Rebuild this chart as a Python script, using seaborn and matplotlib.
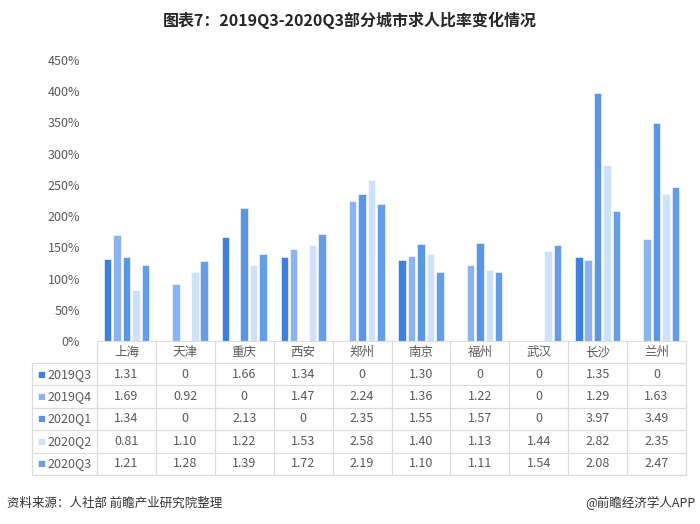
import numpy as np
import pandas as pd
import seaborn as sns
import matplotlib.pyplot as plt
from matplotlib.transforms import blended_transform_factory
from matplotlib.ticker import FuncFormatter

cities = ['上海', '天津', '重庆', '西安', '郑州', '南京', '福州', '武汉', '长沙', '兰州']
periods = ['2019Q3', '2019Q4', '2020Q1', '2020Q2', '2020Q3']
q3_2019 = [1.31, 0, 1.66, 1.34, 0, 1.30, 0, 0, 1.35, 0]
q4_2019 = [1.69, 0.92, 0, 1.47, 2.24, 1.36, 1.22, 0, 1.29, 1.63]
q1_2020 = [1.34, 0, 2.13, 0, 2.35, 1.55, 1.57, 0, 3.97, 3.49]
q2_2020 = [0.81, 1.10, 1.22, 1.53, 2.58, 1.40, 1.13, 1.44, 2.82, 2.35]
q3_2020 = [1.21, 1.28, 1.39, 1.72, 2.19, 1.10, 1.11, 1.54, 2.08, 2.47]
series = [q3_2019, q4_2019, q1_2020, q2_2020, q3_2020]

palette = {'2019Q3': '#3d81de', '2019Q4': '#8bb4ee', '2020Q1': '#5a96e4',
           '2020Q2': '#cde1fb', '2020Q3': '#649de8'}

sns.set_style('white')
plt.rcParams['font.family'] = ['Noto Sans CJK SC', 'DejaVu Sans']
text_col = '#595959'
line_col = '#dcdcdc'

df = pd.DataFrame({
    'city': np.tile(cities, len(periods)),
    'period': np.repeat(periods, len(cities)),
    'value': np.concatenate(series),
})

fig = plt.figure(figsize=(7, 5.24), dpi=100)
W, H = 700, 524
x0, x1, y_top, y_bot = 97, 686, 60, 341
ax = fig.add_axes([x0 / W, (H - y_bot) / H, (x1 - x0) / W, (y_bot - y_top) / H])

sns.barplot(df, x='city', y='value', hue='period', palette=palette,
            saturation=1, width=0.8, gap=0.2, legend=False, ax=ax,
            edgecolor='white', linewidth=0.4)
ax.set_xlim(-0.5, 9.5)
ax.set_ylim(0, 4.5)
ax.set_yticks(np.arange(0, 4.51, 0.5))
ax.yaxis.set_major_formatter(FuncFormatter(lambda v, p: f'{v * 100:.0f}%'))
ax.tick_params(axis='y', labelsize=9, labelcolor=text_col, length=0, pad=12)
ax.set_xticks([])
ax.set_xlabel('')
ax.set_ylabel('')
for s in ['left', 'right', 'top']:
    ax.spines[s].set_visible(False)
ax.spines['bottom'].set_color(line_col)

# data table under the bars
tr = blended_transform_factory(ax.transData, ax.transAxes)
colw = (x1 - x0) / 10.0
left_edge = -0.5 - (x0 - 32) / colw


def ya(ypix):
    return (y_bot - ypix) / (y_bot - y_top)


row_edges = [363 + 22.4 * i for i in range(6)]
for yp in row_edges:
    ax.plot([left_edge, 9.5], [ya(yp), ya(yp)], color=line_col, lw=0.9,
            transform=tr, clip_on=False)
ax.plot([left_edge, left_edge], [ya(363), ya(row_edges[-1])], color=line_col,
        lw=0.9, transform=tr, clip_on=False)
for k in range(11):
    xk = k - 0.5
    ax.plot([xk, xk], [ya(y_bot), ya(row_edges[-1])], color=line_col, lw=0.9,
            transform=tr, clip_on=False)

for j, c in enumerate(cities):
    ax.text(j, ya(352.5), c, ha='center', va='center', fontsize=9,
            color=text_col, transform=tr)

for i, (p, vals) in enumerate(zip(periods, series)):
    yc = ya(363 + 22.4 * (i + 0.5))
    ax.text(left_edge + 0.09, yc, '■', ha='left', va='center', fontsize=6,
            color=palette[p], transform=tr, family=['DejaVu Sans'])
    ax.text(left_edge + 0.26, yc, p, ha='left', va='center', fontsize=9,
            color=text_col, transform=tr)
    for j, v in enumerate(vals):
        lab = '0' if v == 0 else f'{v:.2f}'
        ax.text(j, yc, lab, ha='center', va='center', fontsize=9,
                color=text_col, transform=tr)

fig.text(0.5, 1 - 20 / H, '图表7：2019Q3-2020Q3部分城市求人比率变化情况',
         ha='center', va='center', fontsize=11.5, fontweight='bold', color='#262626')
fig.text(7 / W, 1 - 503 / H, '资料来源：人社部 前瞻产业研究院整理',
         ha='left', va='center', fontsize=9, color='#333333')
fig.text(695 / W, 1 - 503 / H, '@前瞻经济学人APP',
         ha='right', va='center', fontsize=9, color='#333333')

plt.savefig('out.png', dpi=100)
plt.close()
